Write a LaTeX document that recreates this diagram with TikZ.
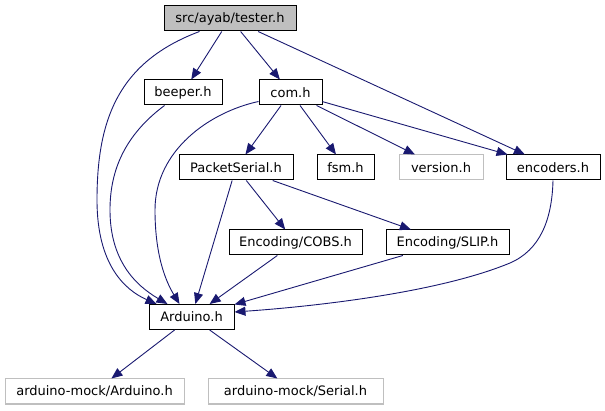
\documentclass[tikz,border=0pt]{standalone}
\usepackage{fontspec}
\setmainfont{DejaVu Sans}
\usetikzlibrary{arrows.meta,positioning,calc}
\definecolor{doxblue}{HTML}{191970}
\definecolor{doxgrey}{HTML}{BFBFBF}
\definecolor{doxink}{HTML}{000000}

\tikzset{
  incfile/.style={draw=doxink, fill=white, line width=1pt, minimum height=25pt, inner sep=0pt, text=doxink},
  extfile/.style={incfile, draw=doxgrey},
  rootfile/.style={incfile, fill=doxgrey},
  dep/.style={doxblue, line width=0.9pt, -{Triangle[length=11pt,width=9pt]}}
}

\begin{document}
\begin{tikzpicture}[x=1pt, y=-1pt, font=\fontsize{13}{15}\selectfont]
  \useasboundingbox (0,0) rectangle (605,411);
  % top level
  \node[rootfile, minimum width=132pt] (tester) at (230,18.5) {src/ayab/tester.h};
  \node[incfile, minimum width=78pt] (beeper) at (183,92.5) {beeper.h};
  \node[incfile, minimum width=63pt] (com) at (290.5,92.5) {com.h};
  % second row
  \node[incfile, minimum width=114pt] (packet) at (236,167.5) {PacketSerial.h};
  \node[incfile, minimum width=57pt] (fsm) at (345.5,167.5) {fsm.h};
  \node[extfile, minimum width=84pt] (version) at (441,167.5) {version.h};
  \node[incfile, minimum width=94pt] (encoders) at (553,167.5) {encoders.h};
  % encodings
  \node[incfile, minimum width=133pt] (cobs) at (295.5,242.5) {Encoding/COBS.h};
  \node[incfile, minimum width=123pt] (slip) at (447.5,242.5) {Encoding/SLIP.h};
  % arduino
  \node[incfile, minimum width=85pt] (arduino) at (191.5,317) {Arduino.h};
  \node[extfile, minimum width=179pt] (mockard) at (94.5,391.5) {arduino-mock/Arduino.h};
  \node[extfile, minimum width=175pt] (mockser) at (295.5,391.5) {arduino-mock/Serial.h};

  \draw[dep] (tester) -- (beeper);
  \draw[dep] (tester) -- (com);
  \draw[dep] (tester) -- (encoders);
  \draw[dep] ([xshift=36pt]tester.south west) .. controls (118,62) and (97,120) .. (97,200)
    .. controls (97,265) and (125,290) .. ([xshift=8pt]arduino.north west);
  \draw[dep] ([xshift=21pt]beeper.south west) .. controls (125,135) and (110,170) .. (110,210)
    .. controls (110,260) and (135,285) .. ([xshift=19pt]arduino.north west);
  \draw[dep] (com) -- (packet);
  \draw[dep] (com) -- (fsm);
  \draw[dep] (com) -- (version);
  \draw[dep] (com) -- (encoders);
  \draw[dep] ([yshift=4pt]com.south west) .. controls (210,112) and (155,150) .. (155,210)
    .. controls (155,260) and (168,285) .. ([xshift=31pt]arduino.north west);
  \draw[dep] (packet) -- (cobs);
  \draw[dep] (packet) -- (slip);
  \draw[dep] (packet) -- (arduino);
  \draw[dep] (cobs) -- (arduino);
  \draw[dep] (slip) -- (arduino);
  \draw[dep] (encoders.south) .. controls (552,220) and (540,250) .. (510,263)
    .. controls (440,292) and (320,306) .. ([yshift=5pt]arduino.east);
  \draw[dep] (arduino) -- (mockard);
  \draw[dep] (arduino) -- (mockser);
\end{tikzpicture}
\end{document}
